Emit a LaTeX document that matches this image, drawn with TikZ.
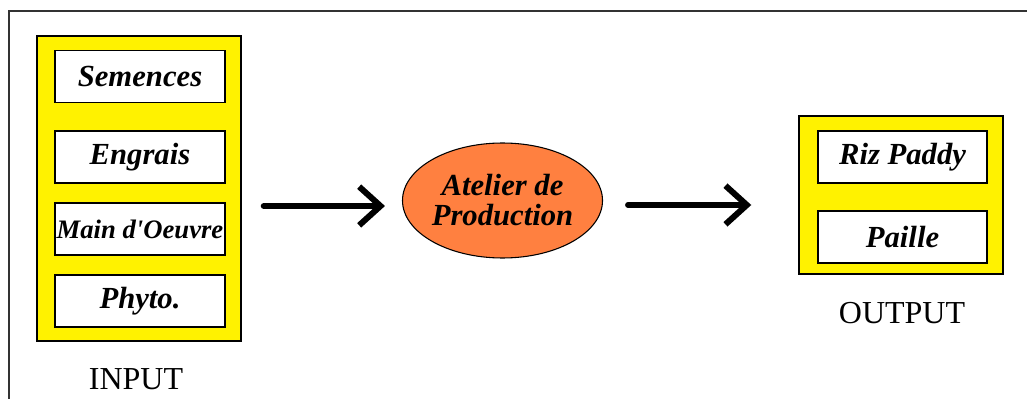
\documentclass[tikz,border=0pt]{standalone}
\usepackage{fontspec}
\setmainfont{Liberation Serif}
\usetikzlibrary{arrows.meta,calc,shapes.geometric}
\definecolor{atelier}{RGB}{255,128,64}
\tikzset{
  panel/.style={draw=black, line width=1.1pt, fill=yellow, inner sep=0pt, minimum width=153pt},
  item/.style={draw=black, line width=1.1pt, fill=white, inner sep=0pt, minimum width=127.5pt, minimum height=39pt, font=\fontsize{23}{26}\selectfont\bfseries\itshape},
  iolabel/.style={inner sep=0pt, font=\fontsize{24}{28}\selectfont},
  flow/.style={line width=4.5pt, line cap=round, -{Straight Barb[length=16pt,width=29pt]}}
}
\begin{document}
\begin{tikzpicture}[x=0.75pt,y=-0.75pt]
    \useasboundingbox (0,0) rectangle (1027,399);
    \draw[line width=1.5pt, draw=black!80] (9,399) -- (9,11.5) -- (1027,11.5);
    % Les entrees
    \node[panel, minimum height=228.75pt] (inbox) at (139,188.5) {};
    \node[item] (semences) at (140,76.5) {Semences};
    \node[item] (engrais) at (140,157) {Engrais};
    \node[item, font=\fontsize{20}{22}\selectfont\bfseries\itshape] (maindoeuvre) at (140,229) {Main d\textquotesingle Oeuvre};
    \node[item] (phyto) at (140,301) {Phyto.};
    \node[iolabel] (input) at (136,379) {INPUT};
    % L'atelier
    \node[ellipse, draw=black, line width=0.8pt, fill=atelier, inner sep=0pt, minimum width=146.25pt, minimum height=86.25pt, align=center, font=\fontsize{23}{22.5}\selectfont\bfseries\itshape] (atelier) at (502.5,200.5) {Atelier de\\Production};
    % Les sorties
    \node[panel, minimum height=118.5pt] (outbox) at (901,195) {};
    \node[item, minimum width=126.75pt] (riz) at (902.5,157) {Riz Paddy};
    \node[item, minimum width=126.75pt] (paille) at (902.5,237) {Paille};
    \node[iolabel] (output) at (902,313) {OUTPUT};
    % Les fleches
    \draw[flow] ($(inbox.east |- atelier.west)+(22,5.5)$) -- ($(atelier.west)+(-17,5.5)$);
    \draw[flow] ($(atelier.east)+(25,4.5)$) -- ($(outbox.west |- atelier.east)+(-47,4.5)$);
\end{tikzpicture}
\end{document}
